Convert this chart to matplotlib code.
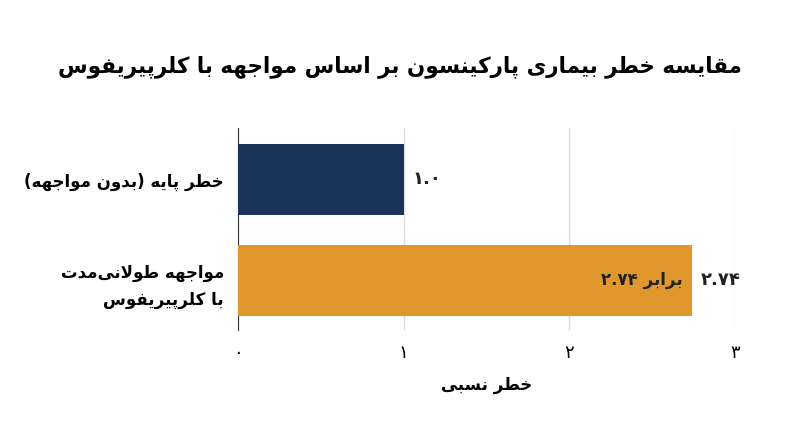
import matplotlib
matplotlib.use("Agg")
import matplotlib.pyplot as plt

# --- minimal Persian shaping (presentation forms) ---
FORMS = {
 'ا':('\uFE8D','\uFE8E'), 'د':('\uFEA9','\uFEAA'), 'ر':('\uFEAD','\uFEAE'), 'و':('\uFEED','\uFEEE'),
 'ب':('\uFE8F','\uFE90','\uFE91','\uFE92'), 'ت':('\uFE95','\uFE96','\uFE97','\uFE98'),
 'ج':('\uFE9D','\uFE9E','\uFE9F','\uFEA0'), 'خ':('\uFEA5','\uFEA6','\uFEA7','\uFEA8'),
 'س':('\uFEB1','\uFEB2','\uFEB3','\uFEB4'), 'ط':('\uFEC1','\uFEC2','\uFEC3','\uFEC4'),
 'ف':('\uFED1','\uFED2','\uFED3','\uFED4'), 'ق':('\uFED5','\uFED6','\uFED7','\uFED8'),
 'ل':('\uFEDD','\uFEDE','\uFEDF','\uFEE0'), 'م':('\uFEE1','\uFEE2','\uFEE3','\uFEE4'),
 'ن':('\uFEE5','\uFEE6','\uFEE7','\uFEE8'), 'ه':('\uFEE9','\uFEEA','\uFEEB','\uFEEC'),
 'ی':('\uFBFC','\uFBFD','\uFBFE','\uFBFF'), 'پ':('\uFB56','\uFB57','\uFB58','\uFB59'),
 'ک':('\uFB8E','\uFB8F','\uFB90','\uFB91'),
}
MIRROR = {'(':')', ')':'('}

def shape(s):
    out = []
    n = len(s)
    i = 0
    def dual(c): return c in FORMS and len(FORMS[c]) == 4
    while i < n:
        c = s[i]
        if c == '\u200c':
            i += 1; continue
        if c not in FORMS:
            out.append(MIRROR.get(c, c)); i += 1; continue
        prev_join = i > 0 and dual(s[i-1])
        if c == 'ل' and i + 1 < n and s[i+1] == 'ا':
            out.append('\uFEFC' if prev_join else '\uFEFB'); i += 2; continue
        next_join = dual(c) and i + 1 < n and s[i+1] in FORMS
        f = FORMS[c]
        if prev_join and next_join: g = f[3]
        elif prev_join: g = f[1]
        elif next_join: g = f[2]
        else: g = f[0]
        out.append(g); i += 1
    return ''.join(reversed(out))

# --- data ---
title = "مقایسه خطر بیماری پارکینسون بر اساس مواجهه با کلرپیریفوس"
categories = ["خطر پایه (بدون مواجهه)", "مواجهه طولانی‌مدت\nبا کلرپیریفوس"]
values = [1.0, 2.74]
value_labels = ["۱.۰", "۲.۷۴"]
inner_label = ("۲.۷۴", "برابر")
xticks = [0, 1, 2, 3]
xtick_labels = ["۰", "۱", "۲", "۳"]
xlabel = "خطر نسبی"
colors = ["#1b3358", "#e0982e"]

plt.rcParams['font.family'] = ['DejaVu Sans']
fig = plt.figure(figsize=(8, 4.47), dpi=100)
ax = fig.add_axes([0.2975, 0.262, 0.6215, 0.452])
ypos = list(range(len(values)))
ax.barh(ypos, values, height=0.71, color=colors, zorder=3)
ax.set_ylim(1.49, -0.51)
ax.set_xlim(0, 3)
ax.set_xticks(xticks)
ax.set_xticklabels(xtick_labels, fontsize=13)
ax.set_yticks(ypos)
ax.set_yticklabels(['\n'.join(shape(l) for l in c.split('\n')) for c in categories],
                   fontsize=12, fontweight='bold', linespacing=1.6)
ax.tick_params(length=0, pad=10)
ax.grid(axis='x', color='#dddddd', lw=1, zorder=0)
for sp in ['top', 'right', 'bottom']:
    ax.spines[sp].set_visible(False)
ax.spines['left'].set_color('#333333')
for y, v, l in zip(ypos, values, value_labels):
    ax.text(v + 0.05, y, l, va='center', ha='left', fontsize=13, fontweight='bold', color='#222222')
ax.text(values[1] - 0.06, 1, inner_label[0] + ' ' + shape(inner_label[1]), va='center', ha='right',
        fontsize=12, fontweight='bold', color='#222222')
ax.set_xlabel(shape(xlabel), fontsize=12, fontweight='bold', labelpad=10)
fig.text(0.5, 0.85, shape(title), ha='center', va='center', fontsize=15.5, fontweight='bold')
fig.savefig("out.png", dpi=100)
